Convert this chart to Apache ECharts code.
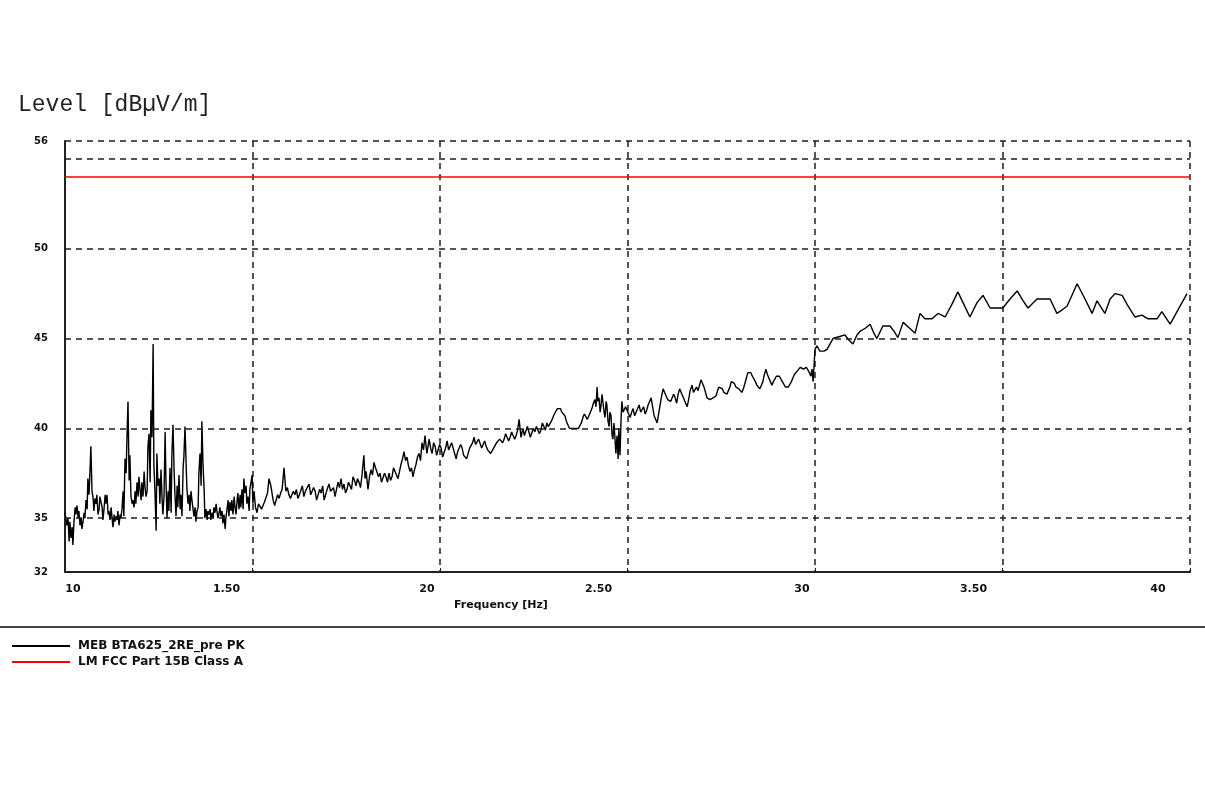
<!DOCTYPE html>
<html>
<head>
<meta charset="utf-8">
<script src="https://cdn.jsdelivr.net/npm/echarts@6/dist/echarts.min.js"></script>
<style>
html,body{margin:0;padding:0;background:#fff;}
#chart{width:1205px;height:798px;}
</style>
</head>
<body>
<div id="chart"></div>
<script>
// ---- data (frequency in MHz, level in dBµV/m) ----
var chartTitle = 'Level [dBµV/m]';
var xAxisTitle = 'Frequency [Hz]';
var seriesNames = ['MEB BTA625_2RE_pre PK', 'LM FCC Part 15B Class A'];
var xTickValues = [1000, 1500, 2000, 2500, 3000, 3500, 4000];
var xTickLabels = ['10', '1.50', '20', '2.50', '30', '3.50', '40'];
var yTickLabels = [32, 35, 40, 45, 50, 56];
var yGridValues = [35, 40, 45, 50, 55, 56];
var limitLine = [[1000, 54.0], [4000, 54.0]];
var pkTrace = [
[1000,35.3],[1003,34.9],[1005,34.6],[1008,35.0],[1011,33.7],[1013,34.8],[1016,33.9],[1019,34.5],[1021,33.5],[1024,34.8],
[1027,35.6],[1029,35.2],[1032,35.7],[1035,35.0],[1037,35.4],[1040,34.6],[1043,35.0],[1045,34.4],[1048,34.8],[1051,35.3],
[1053,35.0],[1056,36.0],[1059,35.5],[1061,37.2],[1064,36.3],[1067,37.8],[1069,39.0],[1072,36.5],[1075,36.1],[1077,35.4],
[1080,36.1],[1083,35.8],[1085,36.3],[1088,35.2],[1091,35.5],[1093,36.2],[1096,36.2],[1099,35.6],[1101,34.9],[1104,35.5],
[1107,36.3],[1109,35.8],[1112,36.3],[1115,35.2],[1117,35.4],[1120,34.9],[1123,35.6],[1125,35.1],[1128,34.5],[1131,35.2],
[1133,34.8],[1136,35.1],[1139,34.9],[1141,35.4],[1144,34.6],[1147,35.2],[1149,35.0],[1152,35.5],[1155,36.5],[1157,35.1],
[1160,38.3],[1163,37.5],[1165,39.3],[1168,41.5],[1171,37.1],[1173,38.5],[1176,36.2],[1179,35.8],[1181,36.0],[1184,35.6],
[1187,36.5],[1189,35.8],[1192,37.0],[1195,36.2],[1197,37.3],[1200,36.6],[1203,36.0],[1205,37.0],[1208,36.2],[1211,37.6],
[1213,36.8],[1216,36.2],[1219,36.5],[1221,38.9],[1224,39.7],[1227,37.0],[1229,41.0],[1232,39.5],[1235,44.7],[1237,38.0],
[1240,36.4],[1243,34.3],[1245,38.6],[1248,36.8],[1251,37.2],[1253,35.8],[1256,37.7],[1259,36.0],[1261,35.2],[1264,36.2],
[1267,39.8],[1269,37.3],[1272,35.0],[1275,36.5],[1277,35.4],[1280,37.8],[1283,35.3],[1285,38.5],[1288,40.2],[1291,37.6],
[1293,36.4],[1296,35.1],[1299,36.8],[1301,35.6],[1304,37.4],[1307,35.5],[1309,36.3],[1312,35.1],[1315,37.8],[1317,38.4],
[1320,40.1],[1323,38.0],[1325,36.7],[1328,35.8],[1331,36.3],[1333,35.4],[1336,36.5],[1339,35.9],[1341,36.0],[1344,35.1],
[1347,35.6],[1349,34.8],[1352,35.4],[1355,35.6],[1357,37.5],[1360,38.6],[1363,36.8],[1365,40.4],[1368,38.0],[1371,36.6],
[1373,35.0],[1376,35.5],[1379,34.9],[1381,35.4],[1384,35.2],[1387,35.5],[1389,34.9],[1392,35.3],[1395,35.0],[1397,35.6],
[1400,35.3],[1403,35.8],[1405,35.4],[1408,35.0],[1411,35.3],[1413,35.6],[1416,35.1],[1419,35.4],[1421,34.7],[1424,35.2],
[1427,34.4],[1429,35.0],[1432,35.5],[1435,36.0],[1437,35.1],[1440,35.9],[1443,35.4],[1445,36.0],[1448,35.2],[1451,36.2],
[1453,35.7],[1456,35.2],[1459,36.0],[1461,36.4],[1464,35.5],[1467,36.3],[1469,35.6],[1472,36.6],[1475,35.5],[1477,37.2],
[1480,36.4],[1483,36.8],[1485,35.8],[1488,36.2],[1491,35.4],[1493,36.6],[1496,37.0],[1499,37.4],[1501,35.8],[1504,36.5],
[1508,35.6],[1512,35.3],[1516,35.8],[1520,35.9],[1524,35.5],[1528,35.7],[1532,35.9],[1536,36.0],[1540,36.4],[1544,37.2],
[1549,36.8],[1555,36.0],[1559,35.7],[1563,35.8],[1567,36.3],[1571,36.1],[1575,36.4],[1579,36.6],[1584,37.8],[1589,36.5],
[1593,36.7],[1597,36.3],[1601,36.1],[1605,36.0],[1609,36.5],[1613,36.3],[1617,36.6],[1621,36.1],[1625,36.3],[1629,36.4],
[1633,36.8],[1637,36.2],[1641,36.5],[1645,36.6],[1651,36.9],[1655,36.3],[1659,36.2],[1663,36.7],[1667,36.5],[1671,36.0],
[1675,36.1],[1679,36.6],[1683,36.4],[1687,36.8],[1691,36.0],[1695,36.3],[1699,36.6],[1704,36.9],[1708,36.5],[1712,36.4],
[1716,36.7],[1720,36.2],[1724,36.6],[1728,37.0],[1732,36.7],[1736,37.2],[1740,36.6],[1744,36.9],[1748,36.4],[1752,36.6],
[1756,37.0],[1760,36.9],[1764,36.6],[1768,37.3],[1772,37.1],[1776,36.8],[1780,37.2],[1784,37.0],[1788,36.7],[1792,37.4],
[1797,38.5],[1800,37.2],[1803,37.6],[1806,37.0],[1808,36.6],[1812,37.3],[1816,37.7],[1820,37.4],[1824,38.1],[1828,37.8],
[1832,37.9],[1836,37.3],[1840,37.5],[1844,37.0],[1848,37.1],[1852,37.5],[1856,37.3],[1860,37.0],[1864,37.5],[1868,37.1],
[1872,37.3],[1876,37.8],[1880,37.7],[1884,37.4],[1888,37.2],[1892,37.6],[1896,38.0],[1900,38.3],[1904,38.7],[1908,38.2],
[1912,38.4],[1916,37.9],[1920,37.6],[1924,37.8],[1928,37.3],[1932,37.7],[1936,38.0],[1940,38.4],[1944,38.6],[1948,38.2],
[1952,39.2],[1956,38.8],[1960,39.6],[1965,38.6],[1968,39.0],[1971,39.4],[1975,38.9],[1979,38.6],[1983,39.2],[1987,39.0],
[1991,38.5],[1995,38.6],[1999,39.1],[2003,38.9],[2007,38.4],[2011,38.5],[2015,38.9],[2019,39.3],[2023,38.8],[2027,38.7],
[2031,39.2],[2035,38.9],[2039,38.6],[2043,38.3],[2047,38.7],[2051,38.8],[2055,39.1],[2059,38.9],[2063,38.5],[2067,38.6],
[2071,38.3],[2075,38.4],[2079,38.9],[2083,38.8],[2087,39.2],[2091,39.5],[2095,39.1],[2099,39.2],[2103,39.4],[2107,39.3],
[2111,38.9],[2115,39.1],[2119,39.3],[2123,39.0],[2127,38.8],[2131,38.8],[2135,38.6],[2139,38.5],[2143,38.9],[2147,38.8],
[2151,39.2],[2155,39.1],[2159,39.4],[2163,39.5],[2167,39.2],[2171,39.4],[2175,39.7],[2179,39.6],[2183,39.3],[2187,39.5],
[2191,39.8],[2195,39.7],[2199,39.4],[2203,39.6],[2207,39.9],[2211,40.5],[2216,39.5],[2221,40.0],[2225,39.6],[2229,39.7],
[2233,40.1],[2237,40.0],[2241,39.5],[2245,39.6],[2249,40.0],[2253,39.8],[2257,40.1],[2261,40.2],[2265,39.7],[2269,39.9],
[2273,40.3],[2277,40.1],[2281,39.9],[2285,40.3],[2289,40.1],[2293,40.0],[2297,40.4],[2301,40.6],[2305,40.8],[2309,40.9],
[2313,41.1],[2317,41.0],[2321,41.1],[2325,40.9],[2329,40.8],[2333,40.7],[2337,40.4],[2341,40.3],[2345,40.0],[2349,40.1],
[2353,40.0],[2357,40.0],[2361,40.0],[2365,39.9],[2369,40.0],[2373,40.0],[2377,40.3],[2381,40.6],[2385,40.8],[2389,40.9],
[2393,40.5],[2397,40.7],[2401,40.9],[2405,41.1],[2409,41.4],[2413,41.6],[2416,41.2],[2419,42.3],[2421,41.5],[2424,41.7],
[2427,40.9],[2429,41.2],[2432,41.9],[2435,41.8],[2437,41.0],[2440,40.6],[2443,41.5],[2445,41.3],[2448,40.4],[2451,40.1],
[2453,40.9],[2456,40.7],[2459,39.6],[2461,39.4],[2464,40.3],[2467,40.2],[2469,38.6],[2472,39.6],[2475,38.3],[2477,40.0],
[2480,38.5],[2483,40.6],[2485,41.5],[2488,40.9],[2491,40.8],[2495,41.2],[2499,41.0],[2503,40.8],[2507,40.6],[2511,40.9],
[2515,41.1],[2519,40.7],[2523,40.8],[2527,41.1],[2531,41.3],[2535,40.9],[2539,40.9],[2543,41.2],[2547,40.8],[2551,41.0],
[2555,41.3],[2559,41.5],[2563,41.7],[2567,41.2],[2571,40.7],[2575,40.5],[2579,40.3],[2583,40.8],[2587,41.3],[2591,41.8],
[2595,42.2],[2599,42.0],[2603,41.9],[2607,41.6],[2611,41.7],[2615,41.5],[2619,41.6],[2623,41.9],[2627,41.7],[2631,41.4],
[2635,41.9],[2639,42.2],[2643,42.1],[2647,41.8],[2651,41.6],[2655,41.4],[2659,41.2],[2663,41.6],[2667,42.1],[2672,42.4],
[2676,42.0],[2680,41.9],[2684,42.3],[2688,42.1],[2692,42.4],[2696,42.7],[2700,42.5],[2704,42.3],[2708,42.0],[2712,41.7],
[2716,41.6],[2720,41.6],[2724,41.7],[2728,41.7],[2732,41.7],[2736,41.8],[2740,42.1],[2744,42.3],[2749,42.4],[2753,42.2],
[2757,42.0],[2761,41.9],[2765,41.9],[2769,42.1],[2773,42.3],[2777,42.6],[2781,42.7],[2785,42.5],[2789,42.3],[2793,42.2],
[2797,42.2],[2801,42.1],[2805,42.0],[2809,42.2],[2813,42.5],[2817,42.8],[2821,43.1],[2825,43.0],[2829,43.1],[2833,42.9],
[2837,42.8],[2841,42.6],[2845,42.4],[2849,42.3],[2853,42.2],[2857,42.4],[2861,42.6],[2865,43.0],[2869,43.3],[2873,43.0],
[2877,42.8],[2881,42.6],[2885,42.4],[2889,42.6],[2893,42.7],[2897,42.9],[2901,43.0],[2905,42.9],[2909,42.8],[2913,42.6],
[2917,42.5],[2921,42.3],[2925,42.2],[2929,42.3],[2933,42.4],[2937,42.6],[2941,42.8],[2945,43.0],[2949,43.1],[2953,43.2],
[2957,43.3],[2961,43.4],[2965,43.4],[2969,43.3],[2973,43.2],[2977,43.4],[2981,43.5],[2985,43.1],[2989,42.9],[2992,43.3],
[2995,42.6],[2998,42.5],[3000,44.4],[3005,44.6],[3013,44.3],[3024,44.3],[3032,44.4],[3048,45.0],[3064,45.1],[3080,45.2],
[3091,44.9],[3101,44.7],[3112,45.2],[3120,45.4],[3136,45.6],[3147,45.8],[3157,45.3],[3165,45.0],[3181,45.7],[3200,45.7],
[3211,45.4],[3221,45.05],[3235,45.9],[3251,45.6],[3267,45.3],[3280,46.4],[3293,46.1],[3312,46.1],[3328,46.4],[3347,46.2],
[3365,46.9],[3381,47.6],[3397,46.9],[3413,46.2],[3432,47.0],[3448,47.4],[3467,46.7],[3501,46.7],[3520,47.2],[3539,47.65],
[3555,47.1],[3568,46.7],[3592,47.2],[3627,47.2],[3645,46.4],[3659,46.6],[3672,46.8],[3685,47.4],[3699,48.05],[3720,47.2],
[3739,46.4],[3752,47.1],[3773,46.4],[3787,47.2],[3800,47.5],[3819,47.4],[3835,46.8],[3853,46.2],[3872,46.3],[3888,46.1],
[3912,46.1],[3925,46.5],[3947,45.8],[3968,46.6],[3992,47.5]
];

// ---- styling ----
var dash = [6, 5];
var gridColor = '#1e1e1e';
var labelFont = 'DejaVu Sans';
// per-label horizontal nudges (px) to match the original label placement
var xLabelShift = [8, -26, -13, -29, -13, -29, -32];
var rich = {};
xLabelShift.forEach(function (s, i) {
  rich['s' + i] = {
    fontFamily: labelFont, fontWeight: 'bold', fontSize: 11, color: '#111',
    padding: s < 0 ? [0, -2 * s, 0, 0] : [0, 0, 0, 2 * s]
  };
});

var chart = echarts.init(document.getElementById('chart'), null, {renderer: 'canvas'});
chart.setOption({
  animation: false,
  backgroundColor: '#ffffff',
  title: {
    text: chartTitle,
    left: 13, top: 88,
    textStyle: {fontFamily: 'Liberation Mono', fontSize: 23, fontWeight: 'normal', color: '#222'}
  },
  legend: {
    orient: 'vertical',
    left: 12, top: 639, padding: 0,
    icon: 'rect',
    itemWidth: 58, itemHeight: 2, itemGap: 2,
    data: seriesNames,
    textStyle: {fontFamily: labelFont, fontWeight: 'bold', fontSize: 12, color: '#111', padding: [0, 0, 0, 3], lineHeight: 14}
  },
  grid: {left: 65, right: 15, top: 141, bottom: 226, containLabel: false},
  xAxis: {
    type: 'value', min: 1000, max: 4000, interval: 500,
    axisLine: {show: true, lineStyle: {color: '#222', width: 2}},
    axisTick: {show: true, inside: true, length: 4, lineStyle: {color: '#222', width: 1}},
    splitLine: {show: true, lineStyle: {color: gridColor, width: 1.5, type: dash}},
    axisLabel: {
      show: true, margin: 12, showMinLabel: true, showMaxLabel: true,
      formatter: function (v) {
        var i = xTickValues.indexOf(v);
        return i < 0 ? '' : '{s' + i + '|' + xTickLabels[i] + '}';
      },
      rich: rich
    }
  },
  yAxis: {
    type: 'value', min: 32, max: 56, interval: 1,
    axisLine: {show: true, lineStyle: {color: '#222', width: 2}},
    axisTick: {show: false},
    splitLine: {show: false},
    axisLabel: {
      show: true, margin: 17,
      fontFamily: labelFont, fontWeight: 'bold', fontSize: 10, color: '#111',
      formatter: function (v) { return yTickLabels.indexOf(v) >= 0 ? String(v) : ''; }
    }
  },
  graphic: [
    {type: 'text', left: 454, top: 600,
     style: {text: xAxisTitle, fontFamily: labelFont, fontWeight: 'bold', fontSize: 11, fill: '#111'}},
    {type: 'rect', left: 0, top: 626, shape: {width: 1205, height: 2}, style: {fill: '#444'}}
  ],
  series: [
    {
      name: seriesNames[0], type: 'line', data: pkTrace,
      symbol: 'none', lineStyle: {color: '#000', width: 1.4}, itemStyle: {color: '#000'},
      z: 3
    },
    {
      name: seriesNames[1], type: 'line', data: limitLine,
      symbol: 'none', lineStyle: {color: '#ff0000', width: 1.5}, itemStyle: {color: '#ff0000'},
      z: 4,
      markLine: {
        silent: true, symbol: ['none', 'none'], label: {show: false},
        lineStyle: {color: gridColor, width: 1.5, type: dash},
        data: yGridValues.map(function (v) { return {yAxis: v}; })
      }
    }
  ]
});
</script>
</body>
</html>
